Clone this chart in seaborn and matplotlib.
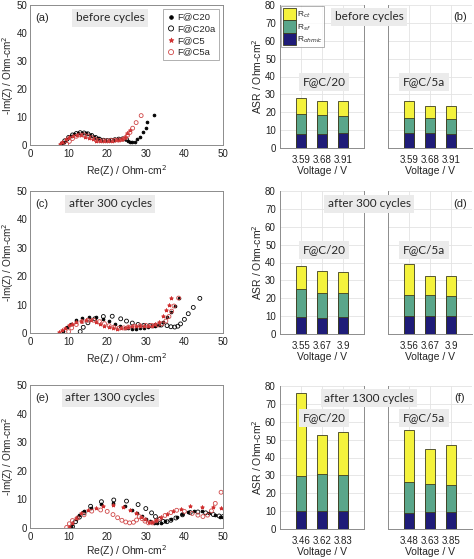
import pandas as pd
import numpy as np
import matplotlib
matplotlib.use('Agg')
import matplotlib.pyplot as plt
import seaborn as sns
from matplotlib.patches import Patch

# Nyquist data (Re, -Im)
# (a) before cycles
a_c20 = [(8.0, 0.3), (8.7, 1.2), (9.5, 2.2), (10.5, 3.1), (11.5, 3.8), (12.5, 4.2), (13.5, 4.4),
         (14.5, 4.2), (15.5, 3.7), (16.5, 3.0), (17.5, 2.4), (18.5, 1.9), (19.5, 1.7), (20.5, 1.7),
         (21.5, 1.8), (22.5, 2.0), (23.5, 2.2), (24.5, 2.1), (25.3, 1.6), (25.9, 1.0), (26.5, 0.9),
         (27.1, 1.2), (27.7, 2.0), (28.4, 3.0), (29.2, 4.5), (30.0, 6.2), (30.4, 8.3), (32.0, 10.8)]
a_c20a = [(8.3, 0.4), (9.0, 1.5), (10.0, 2.7), (11.0, 3.6), (12.0, 4.1), (13.0, 4.4), (14.0, 4.3),
          (15.0, 4.0), (16.0, 3.4), (17.0, 2.7), (18.0, 2.1), (19.0, 1.7), (20.0, 1.6), (21.0, 1.7),
          (22.0, 1.9), (23.0, 2.1), (24.0, 2.2), (25.0, 2.0)]
a_c5 = [(7.8, 0.2), (8.4, 1.0), (9.2, 2.0), (10.2, 2.8), (11.2, 3.3), (12.2, 3.5), (13.2, 3.4),
        (14.2, 3.0), (15.2, 2.5), (16.2, 2.0), (17.2, 1.6), (18.2, 1.4), (19.2, 1.4), (20.2, 1.5),
        (21.2, 1.6), (22.2, 1.7), (23.0, 1.8), (23.8, 2.2), (24.5, 3.0), (25.2, 4.2), (25.8, 5.5)]
a_c5a = [(9.5, 0.3), (10.2, 1.3), (11.0, 2.3), (12.0, 3.1), (13.0, 3.6), (14.0, 3.6), (15.0, 3.2),
         (16.0, 2.6), (17.0, 2.0), (18.0, 1.6), (19.0, 1.5), (20.0, 1.5), (21.0, 1.6), (22.0, 1.7),
         (23.0, 1.8), (24.0, 2.0), (24.7, 2.6), (25.3, 3.5), (25.9, 4.5), (26.6, 6.0), (27.5, 8.0),
         (28.8, 10.5)]

# (c) after 300 cycles
c_c20 = [(8.5, 0.8), (9.5, 2.0), (10.5, 3.2), (12.0, 4.5), (13.5, 5.3), (15.2, 5.8), (17.0, 5.7),
         (19.0, 5.0), (20.5, 4.2), (22.0, 3.3), (23.3, 2.5), (24.5, 1.9), (25.5, 1.6), (26.5, 1.5),
         (27.5, 1.5), (28.5, 1.7), (29.5, 1.9), (30.5, 2.1), (31.5, 2.3), (32.5, 2.4), (33.5, 2.8),
         (34.5, 3.8), (35.5, 5.5), (36.5, 7.5), (37.5, 9.5), (38.5, 12.3)]
c_c20a = [(13.0, 0.5), (13.8, 2.0), (15.0, 3.6), (16.8, 5.0), (19.0, 5.8), (21.3, 5.9), (23.5, 5.0),
          (25.0, 4.2), (26.5, 3.5), (28.0, 3.0), (29.5, 2.7), (31.0, 2.6), (32.5, 2.7), (34.0, 2.8),
          (35.5, 2.6), (36.5, 2.2), (37.5, 2.1), (38.3, 2.4), (39.0, 3.2), (40.0, 4.8), (41.0, 6.8),
          (42.3, 9.0), (44.0, 12.2)]
c_c5 = [(7.5, 0.2), (8.2, 1.0), (9.0, 1.8), (10.0, 2.7), (11.0, 3.3), (12.0, 3.8), (13.2, 4.2),
        (14.5, 4.5), (15.8, 4.5), (17.0, 4.0), (18.2, 3.3), (19.3, 2.6), (20.4, 2.0), (21.5, 1.6),
        (22.5, 1.5), (23.5, 1.6), (24.5, 1.9), (25.5, 2.2), (26.5, 2.4), (27.5, 2.5), (28.5, 2.5),
        (29.5, 2.5), (30.5, 2.5), (31.5, 2.6), (32.5, 3.0), (33.5, 4.0), (34.5, 6.0), (35.3, 8.0),
        (36.0, 10.0), (36.5, 12.5)]
c_c5a = [(10.0, 0.5), (10.8, 1.8), (12.0, 3.0), (13.5, 4.0), (15.0, 4.5), (16.5, 4.5), (18.0, 4.0),
         (19.3, 3.3), (20.5, 2.6), (21.7, 2.0), (23.0, 1.7), (24.3, 1.8), (25.5, 2.1), (27.0, 2.4),
         (28.5, 2.6), (30.0, 2.7), (31.5, 2.7), (33.0, 2.8), (34.2, 3.2), (35.2, 4.2), (36.0, 5.8),
         (36.7, 7.7), (37.3, 9.5), (38.5, 12.3)]

# (e) after 1300 cycles
e_c20 = [(10.5, 0.2), (11.0, 1.5), (11.8, 3.0), (12.8, 4.5), (14.0, 5.8), (15.8, 7.0), (18.3, 8.3),
         (21.5, 8.7), (24.5, 7.6), (26.5, 6.3), (27.8, 5.3), (29.0, 4.2), (30.0, 3.2), (31.0, 2.4),
         (32.0, 1.8), (33.0, 1.6), (34.0, 1.8), (35.0, 2.4), (36.5, 3.2), (38.0, 4.0), (39.5, 5.0),
         (41.0, 5.6), (42.5, 5.8), (44.5, 5.8), (46.5, 5.3), (48.0, 4.6), (49.2, 4.0), (50.0, 3.8)]
e_c20a = [(11.0, 0.5), (11.8, 2.2), (12.8, 3.8), (14.0, 5.3), (15.7, 7.6), (18.5, 9.2), (21.7, 9.8),
          (25.0, 9.4), (28.0, 8.2), (30.0, 6.8), (31.5, 5.3), (32.5, 4.0), (33.5, 3.0), (34.5, 2.3),
          (35.5, 2.2), (36.5, 2.7), (37.8, 3.5), (39.5, 4.6), (41.5, 5.4), (43.5, 5.6), (45.5, 5.3),
          (47.5, 4.7), (49.0, 4.2), (50.0, 4.0)]
e_c5 = [(10.0, 0.3), (10.8, 1.8), (11.8, 3.5), (13.2, 5.2), (15.0, 6.3), (17.0, 7.0), (19.0, 7.6),
        (21.5, 8.1), (24.0, 7.4), (26.0, 6.4), (27.5, 5.3), (28.7, 4.0), (29.7, 3.0), (30.7, 2.2),
        (31.7, 2.1), (32.7, 2.8), (34.0, 3.8), (35.5, 4.8), (37.0, 5.8), (39.0, 6.8), (41.5, 7.6),
        (44.5, 7.5), (47.5, 7.5), (49.5, 7.0)]
e_c5a = [(9.5, 0.2), (10.2, 1.5), (11.0, 2.6), (12.3, 3.5), (14.0, 4.6), (16.0, 5.9), (18.3, 6.3),
         (20.0, 5.8), (21.5, 4.7), (22.7, 3.6), (23.8, 2.7), (24.8, 2.1), (25.8, 1.8), (26.8, 2.0),
         (27.6, 2.8), (28.3, 4.0), (29.0, 3.3), (29.8, 2.4), (30.7, 1.8), (31.7, 1.8), (32.7, 2.5),
         (33.8, 3.4), (35.0, 4.4), (36.5, 5.4), (38.0, 6.2), (40.0, 5.8), (42.0, 5.1), (43.5, 4.5),
         (44.8, 4.0), (46.0, 4.5), (47.0, 6.0), (48.0, 8.6), (49.5, 12.5)]

# ASR bar data: voltages and the three resistance parts
b_v20 = ['3.59', '3.68', '3.91']
b_ohm20 = [8.0, 8.0, 8.2]
b_sf20 = [11.0, 10.5, 9.8]
b_ct20 = [9.0, 8.0, 8.5]
b_v5a = ['3.59', '3.68', '3.91']
b_ohm5a = [8.2, 8.2, 8.0]
b_sf5a = [8.8, 8.7, 8.4]
b_ct5a = [9.5, 6.6, 7.0]

d_v20 = ['3.55', '3.67', '3.9']
d_ohm20 = [9.5, 9.2, 9.5]
d_sf20 = [15.5, 13.8, 13.3]
d_ct20 = [13.0, 12.5, 12.0]
d_v5a = ['3.56', '3.67', '3.9']
d_ohm5a = [10.0, 10.0, 10.0]
d_sf5a = [12.0, 11.8, 11.3]
d_ct5a = [17.0, 10.5, 11.0]

f_v20 = ['3.46', '3.62', '3.83']
f_ohm20 = [10.0, 10.0, 10.0]
f_sf20 = [19.8, 21.0, 20.3]
f_ct20 = [46.2, 21.5, 24.2]
f_v5a = ['3.48', '3.63', '3.85']
f_ohm5a = [9.0, 9.5, 9.5]
f_sf5a = [17.5, 15.5, 15.0]
f_ct5a = [29.0, 19.5, 22.5]

sns.set_style('white')
plt.rcParams['font.family'] = ['Liberation Sans', 'DejaVu Sans']

W, H = 474, 559
SPINE = '#8c8c8c'
BOXC = '#ebebeb'
TITLE_FONT = 'Lato'
C_CT, C_SF, C_OHM = '#f4f23c', '#5aa68a', '#1f1c78'
EDGE = '#3d3d20'


def rect(x0, y0, x1, y1):
    return [x0 / W, 1 - y1 / H, (x1 - x0) / W, (y1 - y0) / H]


def style_axes(ax, spines=('left', 'right', 'top', 'bottom')):
    for s in ax.spines:
        ax.spines[s].set_visible(s in spines)
        ax.spines[s].set_color(SPINE)
        ax.spines[s].set_linewidth(0.7)
    ax.tick_params(direction='in', length=2, width=0.5, color=SPINE,
                   labelsize=7, pad=3, labelcolor='#222222')


def nyquist(ax, series, tag, title, legend=False, xpad=3):
    styles = [('F@C20', 'o', 'black', 'black', 4),
              ('F@C20a', 'o', 'none', 'black', 8),
              ('F@C5', '*', '#d03030', '#d03030', 7),
              ('F@C5a', 'o', 'none', '#d04848', 8)]
    for pts, (lab, m, fc, ec, s) in zip(series, styles):
        df = pd.DataFrame(pts, columns=['re', 'im'])
        sns.scatterplot(data=df, x='re', y='im', marker=m, s=s, facecolor=fc,
                        edgecolor=ec, linewidth=0.6, label=lab, ax=ax, legend=False)
    ax.set_xlim(0, 50)
    ax.set_ylim(0, 50)
    ax.set_xticks(range(0, 51, 10))
    ax.set_yticks(range(0, 51, 10))
    style_axes(ax)
    ax.tick_params(axis='y', pad=2)
    ax.set_xlabel('Re(Z) / Ohm-cm$^2$', fontsize=7.5, labelpad=xpad)
    ax.set_ylabel('-Im(Z) / Ohm-cm$^2$', fontsize=7.2, labelpad=0)
    ax.text(1.3, 45.5, tag, fontsize=8, va='center', ha='left')
    ax.text(20.8, 45.5, title, fontsize=8.5, va='center', ha='center',
            family=TITLE_FONT,
            bbox=dict(facecolor=BOXC, edgecolor='none', pad=2.5))
    if legend:
        leg = ax.legend(loc='upper right', fontsize=6.8, frameon=True,
                        handletextpad=0.2, borderpad=0.35, labelspacing=0.3,
                        handlelength=1.0, borderaxespad=0.4, fancybox=False,
                        markerscale=1.3)
        leg.get_frame().set_edgecolor(SPINE)
        leg.get_frame().set_linewidth(0.6)


def stacked(ax, volts, ohm, sf, ct, ylabel):
    df = pd.DataFrame({'v': volts, 'ohm': ohm, 'sf': sf, 'ct': ct})
    df['mid'] = df['ohm'] + df['sf']
    df['tot'] = df['mid'] + df['ct']
    for col, c in [('tot', C_CT), ('mid', C_SF), ('ohm', C_OHM)]:
        sns.barplot(data=df, x='v', y=col, color=c, width=0.45, saturation=1,
                    edgecolor=EDGE, linewidth=0.6, ax=ax, zorder=3)
    ax.set_xlim(-1, 3)
    ax.set_ylim(0, 80)
    ax.set_yticks(range(0, 81, 10))
    ax.grid(True, color='#e3e3e3', linewidth=0.6, zorder=0)
    ax.set_axisbelow(True)
    ax.set_xlabel('Voltage / V', fontsize=7.5, labelpad=1)
    if ylabel:
        style_axes(ax, ('left', 'right', 'bottom'))
        ax.set_ylabel('ASR / Ohm-cm$^2$', fontsize=7.5, labelpad=1)
    else:
        style_axes(ax, ('left', 'bottom'))
        ax.set_ylabel('')
        ax.tick_params(axis='y', labelleft=False, length=0)
    ax.tick_params(axis='x', length=0, pad=5)


def label_box(fig, x, y, s, size=8.5):
    fig.text(x / W, 1 - y / H, s, fontsize=size, family=TITLE_FONT, ha='center',
             va='center', bbox=dict(facecolor=BOXC, edgecolor='none', pad=2.5), zorder=10)


fig = plt.figure(figsize=(W / 100, H / 100), dpi=100)

rows = [
    (5, 145, 5, 148, [a_c20, a_c20a, a_c5, a_c5a], '(a)', 'before cycles',
     (b_v20, b_ohm20, b_sf20, b_ct20), (b_v5a, b_ohm5a, b_sf5a, b_ct5a), '(b)', 17, 82),
    (191, 333, 191, 334, [c_c20, c_c20a, c_c5, c_c5a], '(c)', 'after 300 cycles',
     (d_v20, d_ohm20, d_sf20, d_ct20), (d_v5a, d_ohm5a, d_sf5a, d_ct5a), '(d)', 204, 250),
    (385, 528, 386, 529, [e_c20, e_c20a, e_c5, e_c5a], '(e)', 'after 1300 cycles',
     (f_v20, f_ohm20, f_sf20, f_ct20), (f_v5a, f_ohm5a, f_sf5a, f_ct5a), '(f)', 398, 418),
]

for i, (nt, nb, bt, bb, ser, tag, title, left, right, btag, ty, fy) in enumerate(rows):
    axn = fig.add_axes(rect(30, nt, 223, nb))
    nyquist(axn, ser, tag, title, legend=(i == 0), xpad=(1 if i == 2 else 3))

    axl = fig.add_axes(rect(280, bt, 364, bb))
    stacked(axl, *left, ylabel=True)
    axr = fig.add_axes(rect(388, bt, 472, bb))
    stacked(axr, *right, ylabel=False)

    if i == 0:
        handles = [Patch(facecolor=C_CT, edgecolor=EDGE, linewidth=0.6),
                   Patch(facecolor=C_SF, edgecolor=EDGE, linewidth=0.6),
                   Patch(facecolor=C_OHM, edgecolor=EDGE, linewidth=0.6)]
        leg = axl.legend(handles, ['R$_{ct}$', 'R$_{sf}$', 'R$_{ohmic}$'],
                         loc='upper left', fontsize=6, frameon=True, fancybox=False,
                         handlelength=1.6, handleheight=1.9, labelspacing=0.05,
                         handletextpad=0.1, borderpad=0.15, borderaxespad=0.15)
        leg.get_frame().set_edgecolor(SPINE)
        leg.get_frame().set_linewidth(0.6)
        leg.set_zorder(10)

    label_box(fig, 369, ty, title)
    fig.text(460 / W, 1 - ty / H, btag, fontsize=8, ha='center', va='center')
    label_box(fig, 324, fy, 'F@C/20')
    label_box(fig, 424, fy, 'F@C/5a')

fig.savefig('out.png', dpi=100)
